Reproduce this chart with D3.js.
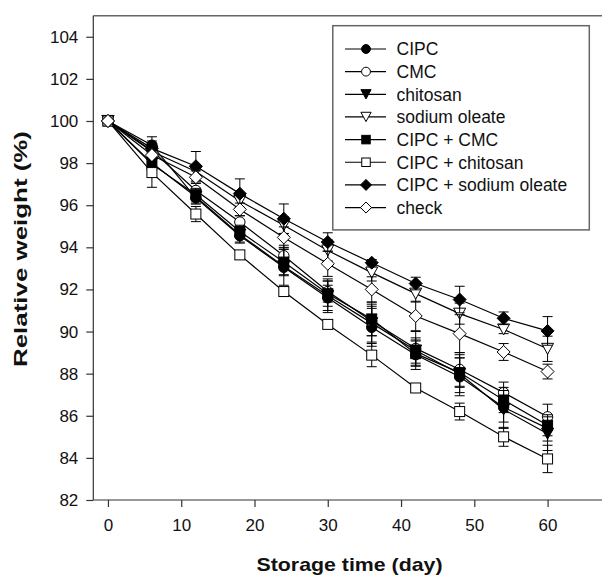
<!DOCTYPE html>
<html>
<head>
<meta charset="utf-8">
<script src="https://cdn.jsdelivr.net/npm/d3@7"></script>
<style>
  html, body { margin: 0; padding: 0; background: #fff; }
  svg { display: block; font-family: Arial, "Liberation Sans", Helvetica, sans-serif; }
</style>
</head>
<body>
<svg id="chart" width="602" height="575"></svg>
<script>
// ---- data ----
const days = [0, 6, 12, 18, 24, 30, 36, 42, 48, 54, 60];
const seriesNames = ["CIPC", "CMC", "chitosan", "sodium oleate", "CIPC + CMC", "CIPC + chitosan", "CIPC + sodium oleate", "check"];
const CIPC        = [100, 98.85, 96.35, 94.55, 93.05, 91.6, 90.2, 88.9, 87.85, 86.4, 85.4];
const CMC         = [100, 98.6, 96.7, 95.2, 93.6, 91.9, 90.5, 89.2, 88.2, 87.1, 85.95];
const chitosan    = [100, 98.0, 96.4, 94.6, 93.1, 91.7, 90.4, 89.1, 88.0, 86.3, 85.15];
const sodiumOleate= [100, 98.55, 97.6, 96.2, 95.05, 93.85, 92.8, 91.8, 90.85, 90.1, 89.18];
const cipcCmc     = [100, 97.95, 96.5, 94.75, 93.3, 91.8, 90.6, 88.95, 88.05, 86.75, 85.55];
const cipcChitosan= [100, 97.55, 95.58, 93.64, 91.9, 90.34, 88.88, 87.32, 86.2, 85.0, 83.95];
const cipcSodium  = [100, 98.7, 97.85, 96.55, 95.36, 94.25, 93.27, 92.28, 91.52, 90.63, 90.03];
const check       = [100, 98.38, 97.33, 95.8, 94.47, 93.22, 92.0, 90.74, 89.9, 89.03, 88.1];
// standard errors
const errCIPC        = [0, 0.4, 0.3, 0.3, 0.4, 0.6, 0.9, 0.7, 0.9, 0.7, 0.6];
const errCMC         = [0, 0.3, 0.4, 0.3, 0.5, 0.5, 0.7, 0.8, 0.8, 0.5, 0.6];
const errChitosan    = [0, 0.3, 0.3, 0.4, 0.9, 0.8, 0.9, 0.6, 0.9, 0.9, 0.8];
const errSodiumOleate= [0, 0.3, 0.3, 0.3, 0.4, 0.5, 0.4, 0.4, 0.5, 0.2, 0.6];
const errCipcCmc     = [0, 0.3, 0.3, 0.3, 0.6, 0.6, 0.8, 0.6, 0.7, 0.6, 0.5];
const errCipcChitosan= [0, 0.7, 0.36, 0.2, 0.2, 0.2, 0.55, 0.2, 0.4, 0.45, 0.65];
const errCipcSodium  = [0, 0.35, 0.7, 0.7, 0.7, 0.44, 0.15, 0.3, 0.63, 0.3, 0.68];
const errCheck       = [0, 0.3, 0.3, 0.3, 0.5, 0.6, 0.6, 0.7, 0.9, 0.4, 0.35];
const yTicks = [82, 84, 86, 88, 90, 92, 94, 96, 98, 100, 102, 104];
const xTicks = [0, 10, 20, 30, 40, 50, 60];
const markerShapes = ["circle", "circle", "triangle", "triangle", "square", "square", "diamond", "diamond"];
const markerFilled = [true, false, true, false, true, false, true, false];

const values = [CIPC, CMC, chitosan, sodiumOleate, cipcCmc, cipcChitosan, cipcSodium, check];
const errors = [errCIPC, errCMC, errChitosan, errSodiumOleate, errCipcCmc, errCipcChitosan, errCipcSodium, errCheck];

// ---- layout ----
const svg = d3.select("#chart");
const mLeft = 93.3, mTop = 15.7, mBottom = 500;
const x = d3.scaleLinear().domain([-2, 70]).range([mLeft, mLeft + 72 * 7.327]);
const y = d3.scaleLinear().domain([82, 105]).range([mBottom, mTop]);

// frame top line
svg.append("line").attr("x1", mLeft).attr("x2", 602).attr("y1", mTop).attr("y2", mTop)
  .attr("stroke", "#666").attr("stroke-width", 1.5);

// axes
const yAxis = d3.axisLeft(y).tickValues(yTicks).tickSize(7).tickPadding(8).tickSizeOuter(0);
const gy = svg.append("g").attr("transform", `translate(${mLeft},0)`).call(yAxis);
const xAxis = d3.axisBottom(x).tickValues(xTicks).tickSize(7).tickPadding(12).tickSizeOuter(0);
const gx = svg.append("g").attr("transform", `translate(0,${mBottom})`).call(xAxis);
[gx, gy].forEach(g => {
  g.select(".domain").attr("stroke", "#333").attr("stroke-width", 1.2);
  g.selectAll(".tick line").attr("stroke", "#333").attr("stroke-width", 1.2);
  g.selectAll(".tick text").attr("font-size", 17).attr("fill", "#111")
    .attr("font-family", "Arial, 'Liberation Sans', sans-serif");
});
gy.select(".domain").attr("d", `M0,${mBottom}V${mTop}`);
gx.select(".domain").attr("d", `M${mLeft},0H602`);

// titles
svg.append("text").attr("x", 349.5).attr("y", 571).attr("text-anchor", "middle")
  .attr("font-size", 19).attr("font-weight", "bold").attr("fill", "#111")
  .attr("textLength", 186).attr("lengthAdjust", "spacingAndGlyphs")
  .text("Storage time (day)");
svg.append("text").attr("transform", `translate(26.5,249) rotate(-90)`)
  .attr("text-anchor", "middle").attr("font-size", 18.5).attr("font-weight", "bold").attr("fill", "#111")
  .attr("textLength", 236).attr("lengthAdjust", "spacingAndGlyphs")
  .text("Relative weight (%)");

// marker drawing
function marker(g, shape, filled, cx, cy, s) {
  const fill = filled ? "#000" : "#fff";
  let el;
  if (shape === "circle") {
    el = g.append("circle").attr("cx", cx).attr("cy", cy).attr("r", 5.2 * s);
  } else if (shape === "square") {
    const h = 5 * s;
    el = g.append("rect").attr("x", cx - h).attr("y", cy - h).attr("width", 2 * h).attr("height", 2 * h);
  } else if (shape === "triangle") {
    const w = 6 * s, hh = 5.5 * s;
    el = g.append("path").attr("d", `M${cx - w},${cy - hh}L${cx + w},${cy - hh}L${cx},${cy + hh}Z`);
  } else {
    const d = 6.5 * s;
    el = g.append("path").attr("d", `M${cx},${cy - d}L${cx + d},${cy}L${cx},${cy + d}L${cx - d},${cy}Z`);
  }
  el.attr("fill", fill).attr("stroke", "#000").attr("stroke-width", 1);
}

const line = d3.line().x(d => x(d[0])).y(d => y(d[1]));
const plot = svg.append("g");
values.forEach((vals, i) => {
  const g = plot.append("g");
  const pts = days.map((d, j) => [d, vals[j], errors[i][j]]);
  g.append("path").datum(pts).attr("d", line).attr("fill", "none").attr("stroke", "#000").attr("stroke-width", 1.2);
  pts.forEach(p => {
    if (p[2] > 0) {
      const cx = x(p[0]), y1 = y(p[1] + p[2]), y2 = y(p[1] - p[2]);
      g.append("line").attr("x1", cx).attr("x2", cx).attr("y1", y1).attr("y2", y2).attr("stroke", "#000").attr("stroke-width", 1);
      g.append("line").attr("x1", cx - 5).attr("x2", cx + 5).attr("y1", y1).attr("y2", y1).attr("stroke", "#000").attr("stroke-width", 1);
      g.append("line").attr("x1", cx - 5).attr("x2", cx + 5).attr("y1", y2).attr("y2", y2).attr("stroke", "#000").attr("stroke-width", 1);
    }
  });
  pts.forEach(p => marker(g, markerShapes[i], markerFilled[i], x(p[0]), y(p[1]), 1));
});

// legend
const lg = svg.append("g");
lg.append("rect").attr("x", 332.8).attr("y", 25.7).attr("width", 256.5).attr("height", 204.2)
  .attr("fill", "#fff").attr("stroke", "#666").attr("stroke-width", 1.5);
seriesNames.forEach((name, i) => {
  const ly = 49 + i * 22.65;
  lg.append("line").attr("x1", 345).attr("x2", 386).attr("y1", ly).attr("y2", ly).attr("stroke", "#000").attr("stroke-width", 1.2);
  marker(lg, markerShapes[i], markerFilled[i], 366, ly, 0.85);
  lg.append("text").attr("x", 396.5).attr("y", ly).attr("dy", "0.36em").attr("font-size", 17.5).attr("fill", "#111").text(name);
});
</script>
</body>
</html>
